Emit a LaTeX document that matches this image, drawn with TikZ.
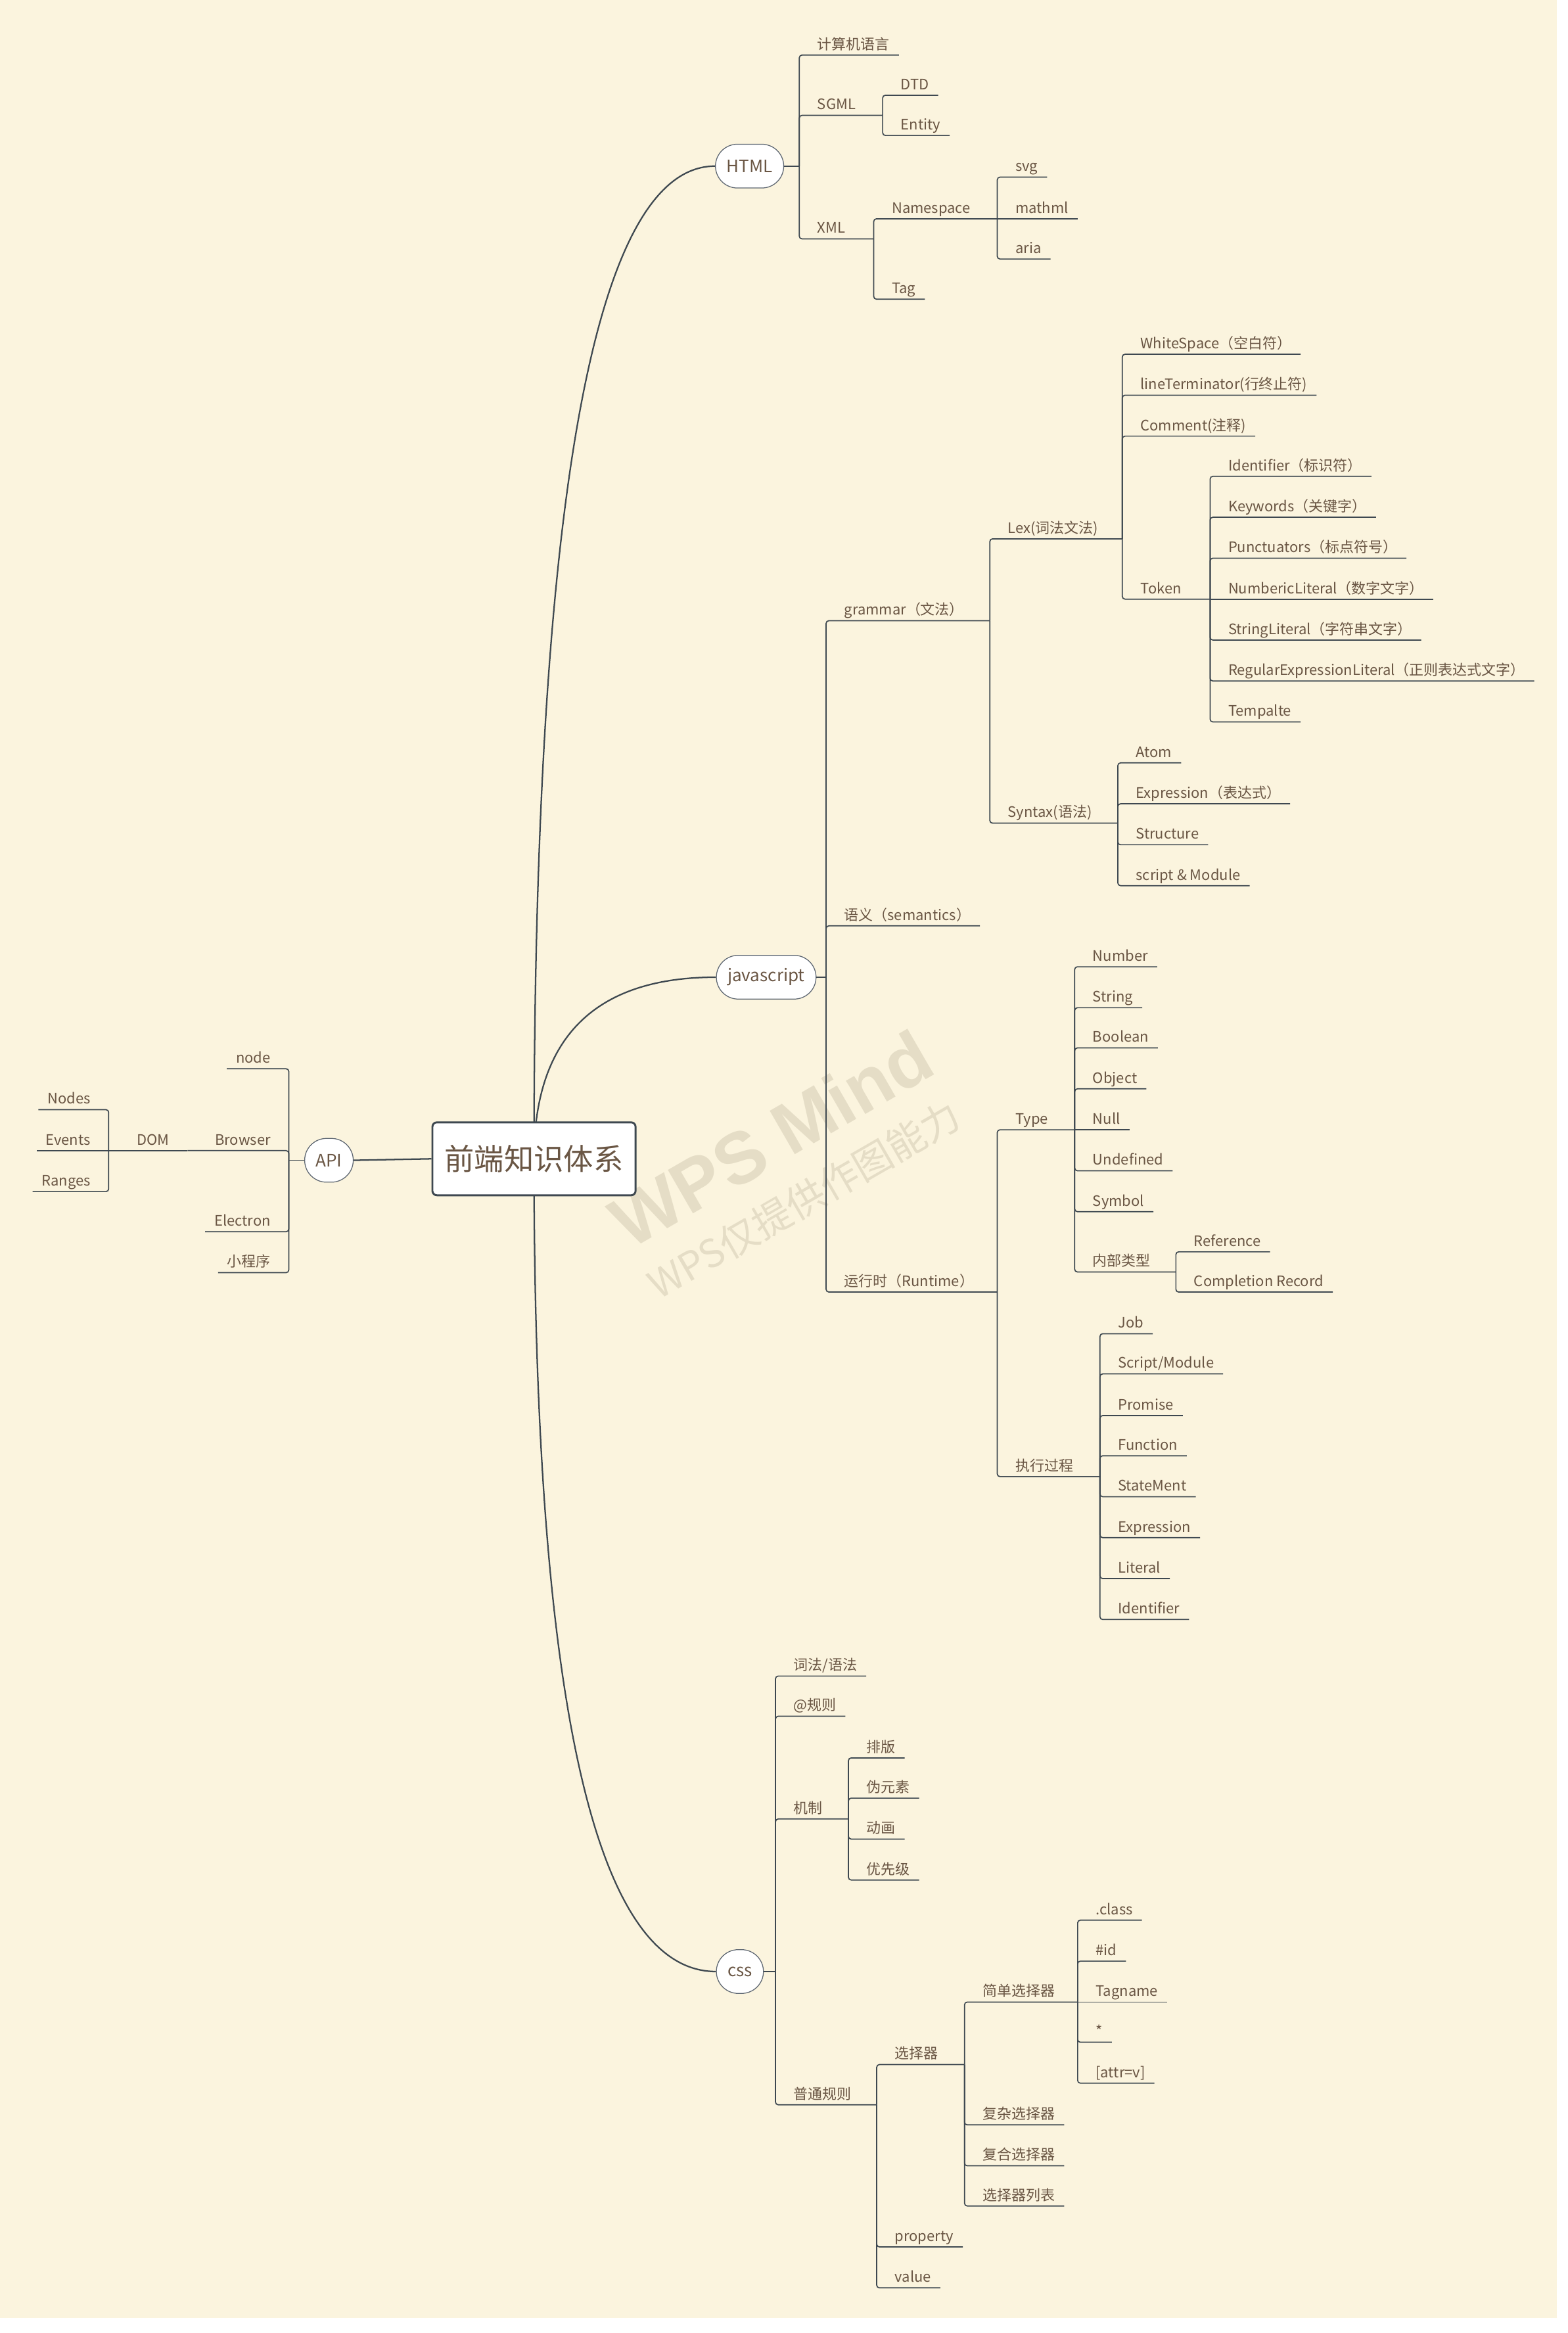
\documentclass[tikz,border=0pt]{standalone}
\usepackage{fontspec}
\setmainfont{Noto Sans CJK SC}
\newfontfamily\wmfont{Liberation Sans}
\newfontfamily\wmcjk{Noto Sans CJK SC}
\usetikzlibrary{calc}
\definecolor{bg}{HTML}{FBF4DE}
\definecolor{txt}{HTML}{6A5644}
\definecolor{ln}{HTML}{3E4850}
\definecolor{nb}{HTML}{5C6570}
\definecolor{wm}{HTML}{E5DDC6}
\tikzset{
 lbl/.style={inner sep=0pt, text=txt, font=\fontsize{9.7}{11}\selectfont},
 brl/.style={draw=ln, line width=0.75pt, rounded corners=1.8pt},
 mainnode/.style={draw=nb, line width=0.55pt, fill=white, rounded corners=14.7pt,
   minimum height=29.4pt, minimum width=29.4pt, inner xsep=7.5pt, inner ysep=0pt,
   text=txt, font=\fontsize{11.5}{13}\selectfont},
 rootnode/.style={draw=ln, line width=1.3pt, fill=white, rounded corners=3pt,
   minimum width=136.5pt, minimum height=49pt, inner sep=0pt, text=txt,
   font=\fontsize{20}{24}\selectfont},
 curvel/.style={draw=ln, line width=1pt},
 wmark/.style={text=wm, inner sep=0pt, rotate=30},
}
% right side: leaf, leaf on same level, parent
\newcommand\tleaf[4]{%
  \path (#2 |- 0,#3) coordinate (#1-s);
  \node[lbl, anchor=base west] (#1) at ($(#1-s)+(12,-3.8)$) {#4};
  \coordinate (#1-e) at ($(#1.base east)+(6,3.8)$);
  \draw[brl] (#2) -- (#1-s) -- (#1-e);}
\newcommand\tleafS[4]{%
  \path (#2 |- 0,#3) coordinate (#1-s);
  \node[lbl, anchor=base west] (#1) at ($(#1-s)+(12,-3.8)$) {#4};
  \coordinate (#1-e) at ($(#1.base east)+(6,3.8)$);
  \draw[brl] (#2) -- (#1-e);}
\newcommand\tpar[5]{%
  \path (#2 |- 0,#3) coordinate (#1-s);
  \node[lbl, anchor=base west] (#1) at ($(#1-s)+(12,-3.8)$) {#5};
  \coordinate (#1-j) at (#4,#3);
  \draw[brl] (#2) -- (#1-s) -- (#1-j);}
% left side
\newcommand\lleaf[4]{%
  \path (#2 |- 0,#3) coordinate (#1-s);
  \node[lbl, anchor=base east] (#1) at ($(#1-s)+(-12,-3.8)$) {#4};
  \coordinate (#1-e) at ($(#1.base west)+(-6,3.8)$);
  \draw[brl] (#2) -- (#1-s) -- (#1-e);}
\newcommand\lleafS[4]{%
  \path (#2 |- 0,#3) coordinate (#1-s);
  \node[lbl, anchor=base east] (#1) at ($(#1-s)+(-12,-3.8)$) {#4};
  \coordinate (#1-e) at ($(#1.base west)+(-6,3.8)$);
  \draw[brl] (#2) -- (#1-e);}
\newcommand\lpar[5]{%
  \path (#2 |- 0,#3) coordinate (#1-s);
  \node[lbl, anchor=base east] (#1) at ($(#1-s)+(-12,-3.8)$) {#5};
  \coordinate (#1-j) at (#4,#3);
  \draw[brl] (#2) -- (#1-s) -- (#1-j);}
\newcommand\lparS[5]{%
  \path (#2 |- 0,#3) coordinate (#1-s);
  \node[lbl, anchor=base east] (#1) at ($(#1-s)+(-12,-3.8)$) {#5};
  \coordinate (#1-j) at (#4,#3);
  \draw[brl] (#2) -- (#1-j);}

\begin{document}
\begin{tikzpicture}[x=1pt, y=-1pt]
\useasboundingbox (0,0) rectangle (1053,1567.35);
\fill[white] (0,0) rectangle (1053,1567.35);
\fill[bg] (0,0) rectangle (1045.9,1557.2);

% watermark
\node[wmark, font=\wmfont\bfseries\fontsize{49}{49}\selectfont] (wm1) at (518,765) {WPS Mind};
\node[wmark, font=\wmcjk\fontsize{26}{26}\selectfont] (wm2) at (540,806) {WPS仅提供作图能力};

% main topics
\node[mainnode, anchor=west] (html) at (480.4,111.6) {HTML};
\node[mainnode, anchor=west] (js) at (481,656.5) {javascript};
\node[mainnode, anchor=west] (css) at (481,1324.5) {css};
\node[mainnode] (api) at (221,779.5) {API};

\coordinate (rc) at (358.75,778.5);
\draw[curvel] (rc) .. controls (358.75,333.9) and (399.3,111.6) .. (html.west);
\draw[curvel] (rc) .. controls (358.75,697.2) and (399.5,656.5) .. (js.west);
\draw[curvel] (rc) .. controls (358.75,1142.5) and (399.5,1324.5) .. (css.west);
\node[rootnode] (root) at (rc) {前端知识体系};
\draw[curvel] (root.west) -- (api.east);

% HTML
\coordinate (html-j) at (537,111.6);
\draw[brl] (html.east) -- (html-j);
\tleaf{h1}{html-j}{37}{计算机语言}
\tpar{sgml}{html-j}{77.5}{593}{SGML}
  \tleaf{dtd}{sgml-j}{64}{DTD}
  \tleaf{entity}{sgml-j}{91}{Entity}
\tpar{xml}{html-j}{160.5}{587}{XML}
  \tpar{ns}{xml-j}{147}{670}{Namespace}
    \tleaf{svg}{ns-j}{119}{svg}
    \tleafS{mathml}{ns-j}{147}{mathml}
    \tleaf{aria}{ns-j}{174}{aria}
  \tleaf{tag}{xml-j}{201}{Tag}

% javascript
\coordinate (js-j) at (555,656.5);
\draw[brl] (js.east) -- (js-j);
\tpar{gram}{js-j}{417}{665}{grammar（文法）}
  \tpar{lex}{gram-j}{362}{754}{Lex(词法文法)}
    \tleaf{ws}{lex-j}{238}{WhiteSpace（空白符）}
    \tleaf{lt}{lex-j}{265.5}{lineTerminator(行终止符)}
    \tleaf{cm}{lex-j}{293}{Comment(注释)}
    \tpar{tok}{lex-j}{402.5}{813}{Token}
      \tleaf{ta}{tok-j}{320}{Identifier（标识符）}
      \tleaf{tb}{tok-j}{347.5}{Keywords（关键字）}
      \tleaf{tc}{tok-j}{375}{Punctuators（标点符号）}
      \tleafS{td}{tok-j}{402.5}{NumbericLiteral（数字文字）}
      \tleaf{te}{tok-j}{430}{StringLiteral（字符串文字）}
      \tleaf{tf}{tok-j}{457.5}{RegularExpressionLiteral（正则表达式文字）}
      \tleaf{tg}{tok-j}{485}{Tempalte}
  \tpar{syn}{gram-j}{553}{751}{Syntax(语法)}
    \tleaf{sa}{syn-j}{512.5}{Atom}
    \tleaf{sb}{syn-j}{540}{Expression（表达式）}
    \tleaf{sc}{syn-j}{567.5}{Structure}
    \tleaf{sd}{syn-j}{595}{script \& Module}
\tleaf{sem}{js-j}{622}{语义（semantics）}
\tpar{rt}{js-j}{868}{670}{运行时（Runtime）}
  \tpar{type}{rt-j}{759}{722}{Type}
    \tleaf{ya}{type-j}{649.5}{Number}
    \tleaf{yb}{type-j}{677}{String}
    \tleaf{yc}{type-j}{704}{Boolean}
    \tleaf{yd}{type-j}{731.5}{Object}
    \tleafS{ye}{type-j}{759}{Null}
    \tleaf{yf}{type-j}{786.5}{Undefined}
    \tleaf{yg}{type-j}{814}{Symbol}
    \tpar{inner}{type-j}{854.5}{790}{内部类型}
      \tleaf{ia}{inner-j}{841}{Reference}
      \tleaf{ib}{inner-j}{868}{Completion Record}
  \tpar{exec}{rt-j}{992}{739}{执行过程}
    \tleaf{ea}{exec-j}{896}{Job}
    \tleaf{eb}{exec-j}{923}{Script/Module}
    \tleaf{ec}{exec-j}{951}{Promise}
    \tleaf{ed}{exec-j}{978}{Function}
    \tleaf{ee}{exec-j}{1005.5}{StateMent}
    \tleaf{ef}{exec-j}{1033}{Expression}
    \tleaf{eg}{exec-j}{1060.5}{Literal}
    \tleaf{eh}{exec-j}{1088}{Identifier}

% css
\coordinate (css-j) at (521,1324.5);
\draw[brl] (css.east) -- (css-j);
\tleaf{ca}{css-j}{1126}{词法/语法}
\tleaf{cb}{css-j}{1153}{@规则}
\tpar{mech}{css-j}{1222}{570}{机制}
  \tleaf{ma}{mech-j}{1181}{排版}
  \tleaf{mb}{mech-j}{1208}{伪元素}
  \tleaf{mc}{mech-j}{1235.5}{动画}
  \tleaf{md}{mech-j}{1263}{优先级}
\tpar{norm}{css-j}{1414}{589}{普通规则}
  \tpar{sel}{norm-j}{1387}{648}{选择器}
    \tpar{simple}{sel-j}{1345}{724}{简单选择器}
      \tleaf{pa}{simple-j}{1290}{.class}
      \tleaf{pb}{simple-j}{1317.5}{\#id}
      \tleafS{pc}{simple-j}{1345}{Tagname}
      \tleaf{pd}{simple-j}{1372}{*}
      \tleaf{pe}{simple-j}{1399.5}{[attr=v]}
    \tleaf{qa}{sel-j}{1427.5}{复杂选择器}
    \tleaf{qb}{sel-j}{1455}{复合选择器}
    \tleaf{qc}{sel-j}{1482}{选择器列表}
  \tleaf{prop}{norm-j}{1509.5}{property}
  \tleaf{val}{norm-j}{1537}{value}

% API
\coordinate (api-j) at (194,779.5);
\draw[brl] (api.west) -- (api-j);
\lleaf{nd}{api-j}{718}{node}
\lpar{brw}{api-j}{773}{126}{Browser}
  \lparS{dom}{brw-j}{773}{73}{DOM}
    \lleaf{na}{dom-j}{745.5}{Nodes}
    \lleafS{nb}{dom-j}{773}{Events}
    \lleaf{nc}{dom-j}{800.5}{Ranges}
\lleaf{el}{api-j}{827.5}{Electron}
\lleaf{mp}{api-j}{855}{小程序}
\end{tikzpicture}
\end{document}
